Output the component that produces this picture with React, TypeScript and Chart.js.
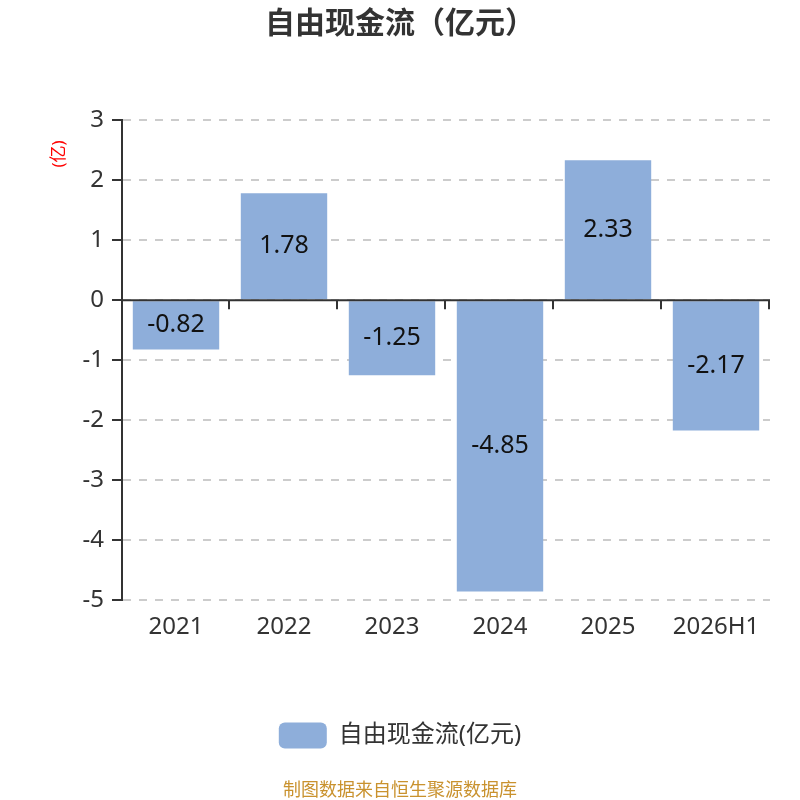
import { useEffect, useRef } from "react";
import { Chart, registerables } from "chart.js";

Chart.register(...registerables);

const categories = ["2021", "2022", "2023", "2024", "2025", "2026H1"];
const cashFlow = [-0.82, 1.78, -1.25, -4.85, 2.33, -2.17];
const seriesName = "自由现金流(亿元)";
const titleText = "自由现金流（亿元）";
const unitText = "(亿)";
const sourceText = "制图数据来自恒生聚源数据库";

const FONT = "'Noto Sans', 'Noto Sans CJK SC', sans-serif";
const BAR_COLOR = "#8EAEDA";
const INK = "#333333";

// zero line with small ticks between categories, plus value labels
const overlayPlugin = {
  id: "overlay",
  afterDatasetsDraw(chart: Chart) {
    const { ctx, chartArea, scales } = chart;
    const x = scales.x;
    const y = scales.y;
    const y0 = y.getPixelForValue(0);
    const n = categories.length;
    const step = (chartArea.right - chartArea.left) / n;

    ctx.save();
    ctx.strokeStyle = INK;
    ctx.lineWidth = 2;
    ctx.beginPath();
    ctx.moveTo(chartArea.left, y0);
    ctx.lineTo(chartArea.right, y0);
    for (let i = 1; i <= n; i++) {
      const px = Math.round(x.left + step * i) - 1;
      ctx.moveTo(px, y0);
      ctx.lineTo(px, y0 + 9);
    }
    ctx.stroke();

    // value labels centred in each bar
    const meta = chart.getDatasetMeta(0);
    ctx.fillStyle = "#111";
    ctx.font = `25px ${FONT}`;
    ctx.textAlign = "center";
    ctx.textBaseline = "middle";
    meta.data.forEach((bar: any, i: number) => {
      const cy = (bar.y + bar.base) / 2;
      ctx.fillText(cashFlow[i].toFixed(2), bar.x, cy);
    });

    // unit label on the left, rotated
    ctx.translate(59, 154);
    ctx.rotate(-Math.PI / 2);
    ctx.fillStyle = "#ff0000";
    ctx.font = `17px ${FONT}`;
    ctx.fillText(unitText, 0, 0);
    ctx.restore();
  },
};

export default function App() {
  const canvasRef = useRef<HTMLCanvasElement | null>(null);

  useEffect(() => {
    if (!canvasRef.current) return;
    const chart = new Chart(canvasRef.current, {
      type: "bar",
      data: {
        labels: categories,
        datasets: [
          {
            label: seriesName,
            data: cashFlow,
            backgroundColor: BAR_COLOR,
            borderWidth: 0,
            categoryPercentage: 1,
            barPercentage: 0.8,
          },
        ],
      },
      options: {
        responsive: false,
        animation: false,
        layout: { padding: { top: 0, left: 30, right: 30, bottom: 0 } },
        plugins: {
          tooltip: { enabled: false },
          title: {
            display: true,
            text: titleText,
            color: INK,
            font: { family: "'Noto Sans CJK SC', sans-serif", size: 30, weight: "bold" },
            padding: { top: 4, bottom: 80 },
          },
          subtitle: {
            display: true,
            position: "bottom",
            text: sourceText,
            color: "#C9922E",
            font: { family: "'Noto Sans CJK SC', sans-serif", size: 18 },
            padding: { top: 20, bottom: 0 },
          },
          legend: {
            display: true,
            position: "bottom",
            labels: {
              boxWidth: 48,
              boxHeight: 26,
              useBorderRadius: true,
              borderRadius: 6,
              color: INK,
              font: { family: FONT, size: 24 },
            },
          },
        },
        scales: {
          x: {
            grid: { display: false, drawTicks: false },
            border: { display: false },
            ticks: {
              color: INK,
              font: { family: FONT, size: 24 },
              padding: 12,
            },
            afterFit: (scale: any) => {
              scale.height = 112;
            },
          },
          y: {
            min: -5,
            max: 3,
            ticks: {
              stepSize: 1,
              color: INK,
              font: { family: FONT, size: 24 },
              padding: 8,
            },
            grid: {
              color: "#cccccc",
              lineWidth: 2,
              tickColor: INK,
              tickLength: 10,
              tickWidth: 2,
            },
            border: { color: INK, width: 2, dash: [8, 8] },
            afterFit: (scale: any) => {
              scale.width = 92;
            },
          },
        },
      },
      plugins: [overlayPlugin],
    });
    return () => chart.destroy();
  }, []);

  return (
    <div style={{ position: "absolute", left: 0, top: 0, width: 800, height: 800, background: "#fff" }}>
      <canvas ref={canvasRef} width={800} height={800} />
    </div>
  );
}
